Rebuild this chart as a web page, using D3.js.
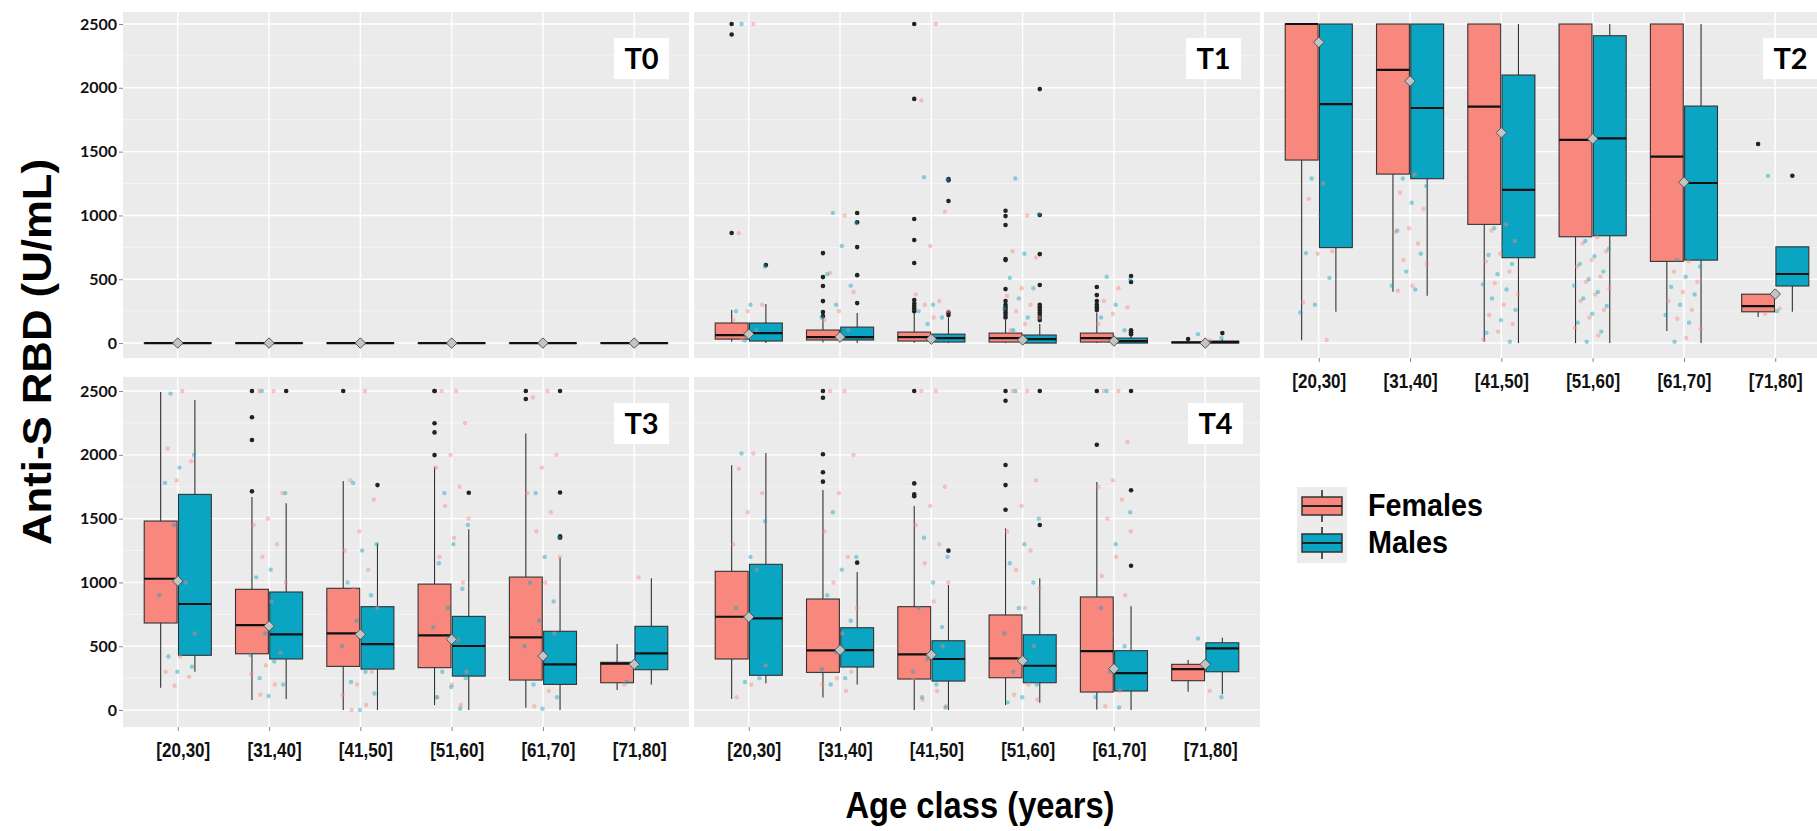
<!DOCTYPE html>
<html>
<head>
<meta charset="utf-8">
<script src="https://cdn.jsdelivr.net/npm/d3@7"></script>
<style>
  body { margin: 0; background: #fff; }
  svg { display: block; }
</style>
</head>
<body>
<svg id="chart" width="1817" height="831"></svg>
<script>
const ageClasses = ["[20,30]", "[31,40]", "[41,50]", "[51,60]", "[61,70]", "[71,80]"];
const yTicks = [0, 500, 1000, 1500, 2000, 2500];
const yMinor = [250, 750, 1250, 1750, 2250];
const sexes = ["Females", "Males"];

// box rows: [whisker low, q1, median, q3, whisker high], one row per age class
const T0_females = [[0, 0, 0, 0, 0], [0, 0, 0, 0, 0], [0, 0, 0, 0, 0], [0, 0, 0, 0, 0], [0, 0, 0, 0, 0], [0, 0, 0, 0, 0]];
const T0_males = [[0, 0, 0, 0, 0], [0, 0, 0, 0, 0], [0, 0, 0, 0, 0], [0, 0, 0, 0, 0], [0, 0, 0, 0, 0], [0, 0, 0, 0, 0]];
const T0_means = [0, 0, 0, 0, 0, 0];

const T1_females = [[10, 31, 63, 157, 259], [5, 24, 47, 102, 204], [2, 16, 47, 86, 235], [0, 8, 39, 78, 180], [0, 8, 39, 78, 240], [0, 2, 5, 8, 12]];
const T1_males = [[0, 16, 78, 157, 306], [0, 24, 47, 125, 235], [0, 8, 39, 70, 204], [0, 0, 31, 63, 150], [0, 0, 16, 39, 90], [0, 0, 8, 16, 30]];
const T1_means = [70, 47, 31, 24, 16, 0];
const T1_femaleOut = [[2500, 2418, 862], [705, 517, 447, 329, 243, 212], [2500, 1913, 972, 807, 627, 337, 310, 290, 270, 250], [1037, 995, 925, 658, 650, 423, 330, 300, 280, 260, 240, 220, 200], [439, 376, 329, 300, 280, 260], [31]];
const T1_maleOut = [[611], [1019, 946, 752, 532, 313], [1285, 1275, 1113, 240, 220], [1990, 1003, 697, 455, 300, 280, 260, 240, 220, 200, 180], [525, 478, 100, 85, 70], [78]];
const T1_femaleRaw = [[2500, 860, 300, 250, 180, 100, 30], [1000, 550, 400, 250, 180, 100], [2500, 1900, 1030, 760, 380, 330, 300, 250, 200], [1000, 720, 670, 430, 370, 300, 250, 200, 150, 100], [430, 330, 280, 230, 150], [20]];
const T1_maleRaw = [[2500, 600, 300, 250, 100, 20], [1020, 940, 760, 540, 450, 300, 200, 100], [1300, 1280, 300, 250, 200, 150], [1290, 1010, 700, 510, 430, 350, 270, 200, 100], [520, 500, 300, 200, 100], [70, 40]];

const T2_females = [[23, 1434, 2500, 2500, 2500], [402, 1324, 2140, 2500, 2500], [10, 930, 1852, 2500, 2500], [0, 833, 1592, 2500, 2500], [94, 640, 1461, 2500, 2500], [204, 245, 290, 383, 383]];
const T2_males = [[245, 748, 1872, 2500, 2500], [370, 1288, 1842, 2500, 2500], [0, 669, 1201, 2100, 2500], [0, 841, 1604, 2408, 2500], [0, 650, 1254, 1857, 2500], [245, 447, 541, 754, 754]];
const T2_means = [2357, 2053, 1648, 1600, 1260, 384];
const T2_femaleOut = [[], [], [], [], [], [1560]];
const T2_maleOut = [[], [], [], [], [], [1311]];
const T2_femaleRaw = [[1250, 1130, 720, 700, 320, 25], [1320, 1180, 1050, 900, 870, 780, 650, 620, 450, 410], [930, 880, 800, 700, 640, 560, 470, 380, 300, 220, 150, 90, 30], [830, 780, 720, 650, 600, 520, 480, 430, 380, 330, 260, 200, 120, 60], [640, 560, 480, 400, 330, 260, 190, 110, 40], [270, 230]];
const T2_maleRaw = [[1290, 1160, 1000, 705, 510, 300, 240], [1290, 1230, 1100, 880, 700, 560, 450, 420], [900, 860, 760, 690, 620, 540, 460, 420, 350, 260, 180, 80, 10], [800, 740, 680, 620, 560, 500, 450, 400, 350, 290, 230, 160, 90, 10], [650, 600, 520, 440, 380, 300, 220, 160, 10], [1310, 480, 250]];

const T3_females = [[175, 682, 1029, 1481, 2492], [78, 441, 666, 946, 1669], [0, 342, 601, 954, 1795], [39, 332, 585, 987, 1907], [18, 235, 570, 1042, 2168], [157, 214, 363, 374, 517]];
const T3_males = [[300, 429, 831, 1690, 2429], [86, 400, 593, 925, 1620], [0, 321, 517, 810, 1306], [0, 266, 502, 734, 1416], [0, 201, 358, 617, 1194], [201, 316, 444, 656, 1032]];
const T3_means = [1011, 658, 593, 554, 423, 358];
const T3_femaleOut = [[], [2500, 2294, 2116, 1714], [2500], [2500, 2500, 2247, 2176, 1998], [2500, 2437], []];
const T3_maleOut = [[], [2500], [1763], [1703], [2500, 1705, 1362, 1350], []];
const T3_femaleRaw = [[2500, 2050, 1950, 1800, 1400, 1000, 700, 600, 420, 300, 260, 190], [2500, 2500, 1700, 1500, 1450, 1300, 1200, 1000, 850, 700, 450, 350, 280, 200, 120], [2500, 1800, 1650, 1400, 1250, 1100, 950, 800, 600, 420, 300, 200, 120, 40, 0], [2500, 2500, 2250, 2000, 1900, 1750, 1600, 1500, 1350, 1200, 1000, 850, 700, 550, 400, 300, 200, 100, 40], [2500, 2450, 2000, 1900, 1700, 1550, 1400, 1200, 1000, 800, 600, 420, 300, 150, 30], [1040, 200]];
const T3_maleRaw = [[2480, 2000, 1900, 1780, 1650, 1450, 900, 550, 420, 340, 300], [2500, 1700, 1100, 1040, 800, 600, 430, 380, 250, 200, 110], [1780, 1300, 1250, 1000, 900, 700, 500, 300, 220, 130, 0], [1700, 1450, 1300, 1150, 950, 800, 650, 450, 300, 250, 180, 100, 10], [1700, 1350, 1200, 1000, 850, 700, 500, 300, 200, 100, 10], [220]];

const T4_females = [[86, 400, 731, 1087, 1918], [99, 295, 468, 870, 1724], [0, 243, 436, 810, 1599], [39, 253, 405, 745, 1424], [5, 141, 462, 886, 1787], [144, 230, 321, 358, 392]];
const T4_males = [[209, 272, 719, 1142, 2014], [201, 337, 470, 645, 1082], [0, 227, 400, 543, 980], [57, 214, 347, 590, 1032], [0, 149, 290, 465, 813], [123, 300, 483, 527, 567]];
const T4_means = [729, 470, 433, 386, 324, 358];
const T4_femaleOut = [[], [2500, 2447, 2004, 1863, 1790], [2500, 1776, 1690, 1675], [2500, 2424, 1920, 1763, 1570], [2500, 2079], []];
const T4_maleOut = [[], [1155], [1249], [2500, 1450], [2500, 1722, 1131], []];
const T4_femaleRaw = [[2010, 1890, 1700, 1550, 1300, 1100, 500, 350, 200, 100], [2500, 2500, 2000, 1700, 1400, 1200, 1000, 800, 600, 400, 300, 250, 200, 150], [2500, 2500, 1750, 1600, 1450, 1300, 1150, 1000, 850, 700, 500, 350, 250, 150, 80, 30], [2500, 2500, 1800, 1600, 1400, 1250, 1100, 950, 800, 650, 500, 400, 300, 200, 120, 80], [2500, 2500, 2100, 1800, 1750, 1650, 1500, 1400, 1200, 1050, 900, 600, 300, 150, 30], [150]];
const T4_maleRaw = [[2010, 1480, 1200, 800, 250, 220], [1550, 1200, 1100, 900, 700, 450, 320, 250, 200], [1350, 1200, 1000, 800, 650, 400, 300, 200, 100, 20], [2500, 1500, 1300, 1150, 1000, 800, 600, 450, 300, 200, 100, 60], [2500, 1550, 1300, 800, 500, 300, 100, 20], [560, 100]];

const noPoints = [[], [], [], [], [], []];

const femaleColor = "#F8877E";
const maleColor = "#0AA5C3";
const sexColor = d3.scaleOrdinal().domain(sexes).range([femaleColor, maleColor]);

const svg = d3.select("#chart");

// layout: panel columns and rows (pixels)
const cols = [[123, 689], [694, 1260], [1264, 1830]];
const rows = [
    {top: 12, bottom: 358, domain: [-117, 2594]},
    {top: 377, bottom: 727, domain: [-133, 2610]}
];

const panels = [
    {name: "T0", col: 0, row: 0, yAxis: true, xAxis: false, labelX: 614, tickShift: 0, females: T0_females, males: T0_males, means: T0_means, fOut: noPoints, mOut: noPoints, fRaw: noPoints, mRaw: noPoints},
    {name: "T1", col: 1, row: 0, yAxis: false, xAxis: false, labelX: 1186, tickShift: 0, females: T1_females, males: T1_males, means: T1_means, fOut: T1_femaleOut, mOut: T1_maleOut, fRaw: T1_femaleRaw, mRaw: T1_maleRaw},
    {name: "T2", col: 2, row: 0, yAxis: false, xAxis: true, labelX: 1763, tickShift: 0, females: T2_females, males: T2_males, means: T2_means, fOut: T2_femaleOut, mOut: T2_maleOut, fRaw: T2_femaleRaw, mRaw: T2_maleRaw},
    {name: "T3", col: 0, row: 1, yAxis: true, xAxis: true, labelX: 614, tickShift: 5, females: T3_females, males: T3_males, means: T3_means, fOut: T3_femaleOut, mOut: T3_maleOut, fRaw: T3_femaleRaw, mRaw: T3_maleRaw},
    {name: "T4", col: 1, row: 1, yAxis: false, xAxis: true, labelX: 1188, tickShift: 5, females: T4_females, males: T4_males, means: T4_means, fOut: T4_femaleOut, mOut: T4_maleOut, fRaw: T4_femaleRaw, mRaw: T4_maleRaw}
];

const narrowFont = "'Liberation Sans', Arial, sans-serif";
const tickFont = "Lato, 'Open Sans', sans-serif";

function jitter(j, phase) {
    // spread points evenly around the category centre
    return (((j + phase) * 0.6180339) % 1 - 0.5) * 38;
}

function drawPanel(p) {
    const [x0, x1] = cols[p.col];
    const r = rows[p.row];

    const x = d3.scalePoint()
        .domain(ageClasses)
        .range([x0, x1])
        .padding(0.6);
    const y = d3.scaleLinear()
        .domain(r.domain)
        .range([r.bottom, r.top]);
    const step = x.step();
    const bw = 0.36 * step;

    const g = svg.append("g").attr("class", "panel-" + p.name);

    g.append("rect")
        .attr("x", x0)
        .attr("y", r.top)
        .attr("width", x1 - x0)
        .attr("height", r.bottom - r.top)
        .attr("fill", "#ebebeb");

    g.selectAll(".minor")
        .data(yMinor)
        .enter().append("line")
        .attr("x1", x0).attr("x2", x1)
        .attr("y1", d => y(d)).attr("y2", d => y(d))
        .style("stroke", "#f6f6f6")
        .style("stroke-width", 0.8);

    g.selectAll(".major")
        .data(yTicks)
        .enter().append("line")
        .attr("x1", x0).attr("x2", x1)
        .attr("y1", d => y(d)).attr("y2", d => y(d))
        .style("stroke", "#fff")
        .style("stroke-width", 1.4);

    g.selectAll(".vgrid")
        .data(ageClasses)
        .enter().append("line")
        .attr("x1", d => x(d)).attr("x2", d => x(d))
        .attr("y1", r.top).attr("y2", r.bottom)
        .style("stroke", "#fff")
        .style("stroke-width", 1.4);

    const groups = [
        {sex: "Females", stats: p.females, out: p.fOut, raw: p.fRaw, dx: -0.1875 * step, phase: 1},
        {sex: "Males", stats: p.males, out: p.mOut, raw: p.mRaw, dx: 0.1875 * step, phase: 0.5}
    ];

    groups.forEach(function (grp) {
        grp.stats.forEach(function (st, i) {
            const cx = x(ageClasses[i]) + grp.dx;
            const [lo, q1, med, q3, hi] = st;
            g.append("line")
                .attr("x1", cx).attr("x2", cx)
                .attr("y1", y(lo)).attr("y2", y(q1))
                .style("stroke", "#333").style("stroke-width", 1.1);
            g.append("line")
                .attr("x1", cx).attr("x2", cx)
                .attr("y1", y(q3)).attr("y2", y(hi))
                .style("stroke", "#333").style("stroke-width", 1.1);
            g.append("rect")
                .attr("x", cx - bw / 2)
                .attr("y", y(q3))
                .attr("width", bw)
                .attr("height", Math.max(y(q1) - y(q3), 0.1))
                .attr("fill", sexColor(grp.sex))
                .style("stroke", "#333")
                .style("stroke-width", 1.1);
            g.append("line")
                .attr("x1", cx - bw / 2).attr("x2", cx + bw / 2)
                .attr("y1", y(med)).attr("y2", y(med))
                .style("stroke", "#111").style("stroke-width", 2.2);

            g.selectAll(null)
                .data(grp.out[i])
                .enter().append("circle")
                .attr("cx", cx)
                .attr("cy", d => y(d))
                .attr("r", 2.3)
                .attr("fill", "#222");
        });
    });

    // raw values, jittered around the category centre
    groups.forEach(function (grp) {
        grp.raw.forEach(function (vals, i) {
            const c = x(ageClasses[i]);
            g.selectAll(null)
                .data(vals)
                .enter().append("circle")
                .attr("cx", (d, j) => c + jitter(j, grp.phase))
                .attr("cy", d => y(d))
                .attr("r", 2.2)
                .attr("fill", sexColor(grp.sex))
                .attr("fill-opacity", 0.45);
        });
    });

    // mean markers
    g.selectAll(".mean")
        .data(p.means)
        .enter().append("path")
        .attr("class", "mean")
        .attr("transform", (d, i) => "translate(" + x(ageClasses[i]) + "," + y(d) + ")")
        .attr("d", d3.symbol().type(d3.symbolDiamond2).size(70))
        .attr("fill", "#c4c4c4")
        .style("stroke", "#555")
        .style("stroke-width", 1);

    // panel label
    const ly = p.row === 0 ? 38 : 403;
    g.append("rect")
        .attr("x", p.labelX).attr("y", ly)
        .attr("width", 55).attr("height", 41)
        .attr("fill", "#fff");
    g.append("text")
        .attr("x", p.labelX + 27.5)
        .attr("y", ly + 31)
        .attr("text-anchor", "middle")
        .style("font-family", tickFont)
        .style("font-weight", "bold")
        .style("font-size", "29px")
        .style("fill", "#000")
        .text(p.name);

    if (p.yAxis) {
        const ya = g.append("g")
            .attr("transform", "translate(" + x0 + ",0)")
            .call(d3.axisLeft(y).tickValues(yTicks).tickFormat(d3.format("d")).tickSize(4).tickPadding(2));
        ya.select(".domain").remove();
        ya.selectAll("line").style("stroke", "#888");
        ya.selectAll("text")
            .style("font-family", tickFont)
            .style("font-weight", "bold")
            .style("font-size", "16px")
            .style("fill", "#111");
    }

    if (p.xAxis) {
        const xa = g.append("g")
            .attr("transform", "translate(0," + r.bottom + ")")
            .call(d3.axisBottom(x).tickSize(4).tickPadding(11));
        xa.select(".domain").remove();
        xa.selectAll("line").style("stroke", "#888");
        xa.selectAll("text")
            .attr("x", p.tickShift)
            .attr("textLength", 54)
            .attr("lengthAdjust", "spacingAndGlyphs")
            .style("font-family", narrowFont)
            .style("font-weight", "bold")
            .style("font-size", "21px")
            .style("fill", "#111");
    }
}

panels.forEach(drawPanel);

// axis titles
svg.append("text")
    .attr("transform", "translate(51,352) rotate(-90)")
    .attr("text-anchor", "middle")
    .attr("textLength", 386)
    .attr("lengthAdjust", "spacingAndGlyphs")
    .style("font-family", narrowFont)
    .style("font-weight", "bold")
    .style("font-size", "41px")
    .text("Anti-S RBD (U/mL)");

svg.append("text")
    .attr("x", 980)
    .attr("y", 818)
    .attr("text-anchor", "middle")
    .attr("textLength", 269)
    .attr("lengthAdjust", "spacingAndGlyphs")
    .style("font-family", narrowFont)
    .style("font-weight", "bold")
    .style("font-size", "36px")
    .text("Age class (years)");

// legend
const legend = svg.append("g").attr("class", "legend");
legend.append("rect")
    .attr("x", 1297).attr("y", 487)
    .attr("width", 50).attr("height", 76)
    .attr("fill", "#ececec");

const legendKeys = legend.selectAll(".key")
    .data(sexes)
    .enter().append("g")
    .attr("class", "key")
    .attr("transform", (d, i) => "translate(1322," + (506 + i * 37) + ")");

legendKeys.append("line")
    .attr("x1", 0).attr("x2", 0)
    .attr("y1", -16).attr("y2", 16)
    .style("stroke", "#222").style("stroke-width", 1.5);
legendKeys.append("rect")
    .attr("x", -20).attr("y", -9)
    .attr("width", 40).attr("height", 18)
    .attr("fill", d => sexColor(d))
    .style("stroke", "#333").style("stroke-width", 1.5);
legendKeys.append("line")
    .attr("x1", -20).attr("x2", 20)
    .attr("y1", 0).attr("y2", 0)
    .style("stroke", "#222").style("stroke-width", 1.8);
legendKeys.append("text")
    .attr("x", 46)
    .attr("y", 10)
    .attr("textLength", (d, i) => i === 0 ? 115 : 80)
    .attr("lengthAdjust", "spacingAndGlyphs")
    .style("font-family", narrowFont)
    .style("font-weight", "bold")
    .style("font-size", "32px")
    .text(d => d);
</script>
</body>
</html>
